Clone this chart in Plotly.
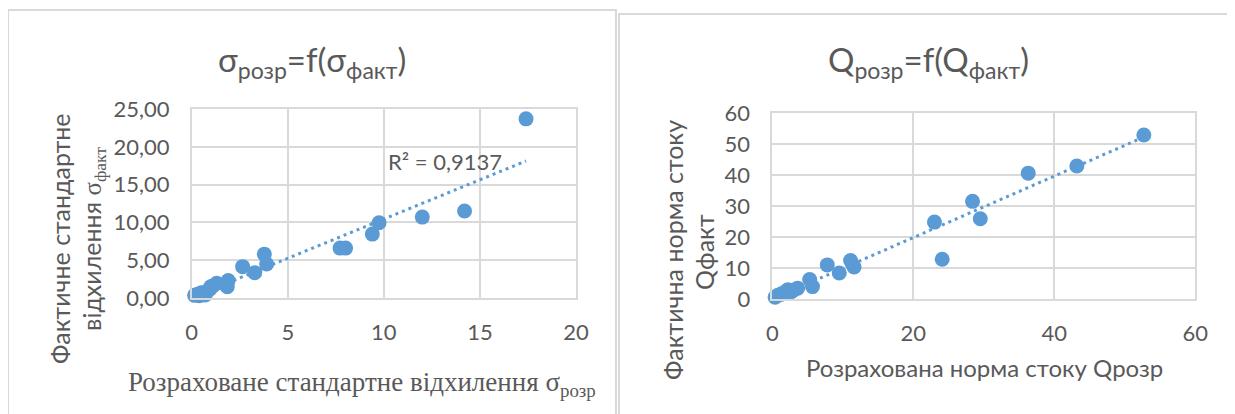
import numpy as np
import plotly.graph_objects as go

# ---- data ----
sigma_rozr = [0.15, 0.3, 0.4, 0.5, 0.6, 0.7, 0.8, 0.95, 1.0, 1.1, 1.3, 1.85, 1.9,
              2.65, 3.28, 3.78, 3.9, 7.72, 8.01, 9.4, 9.75, 12.0, 14.2, 17.4]
sigma_fakt = [0.35, 0.5, 0.3, 0.7, 0.55, 0.4, 0.9, 1.2, 1.5, 1.6, 1.95, 1.5, 2.3,
              4.15, 3.35, 5.8, 4.5, 6.6, 6.6, 8.45, 9.95, 10.7, 11.5, 23.7]
r2_left_label = "R² = 0,9137"

q_rozr = [0.4, 0.8, 1.2, 1.6, 2.2, 2.6, 3.0, 3.6, 5.3, 5.7, 7.8, 9.5, 11.1, 11.6,
          23.0, 24.1, 28.4, 29.5, 36.3, 43.2, 52.7]
q_fakt = [0.6, 1.2, 1.5, 2.0, 3.0, 2.2, 2.8, 3.5, 6.3, 4.0, 11.0, 8.4, 12.4, 10.3,
          24.8, 12.8, 31.5, 25.9, 40.6, 42.9, 52.9]

left_xticks = [0, 5, 10, 15, 20]
left_yticks = [0, 5, 10, 15, 20, 25]
right_xticks = [0, 20, 40, 60]
right_yticks = [0, 10, 20, 30, 40, 50, 60]

OFF = 8  # default page margin of the browser
W, H = 1235 - OFF, 414 - OFF
BLUE = "#5B9BD5"
GRID = "#D9D9D9"
TXT = "#595959"
SANS = "Lato, 'Open Sans', sans-serif"
SERIF = "'Liberation Serif', 'DejaVu Serif', serif"


def px(x):
    return (x - OFF) / W


def py(y):
    return 1 - (y - OFF) / H


def trend(xs, ys):
    k, b = np.polyfit(xs, ys, 1)
    xx = np.array([min(xs), max(xs)])
    return xx, k * xx + b


fig = go.Figure()

# left chart
fig.add_trace(go.Scatter(x=sigma_rozr, y=sigma_fakt, mode="markers", xaxis="x", yaxis="y",
                         marker=dict(size=15, color=BLUE), cliponaxis=False, showlegend=False))
tx, ty = trend(sigma_rozr, sigma_fakt)
fig.add_trace(go.Scatter(x=tx, y=ty, mode="lines", xaxis="x", yaxis="y",
                         line=dict(color=BLUE, width=3, dash="3px,4px"), showlegend=False))

# right chart
fig.add_trace(go.Scatter(x=q_rozr, y=q_fakt, mode="markers", xaxis="x2", yaxis="y2",
                         marker=dict(size=15, color=BLUE), cliponaxis=False, showlegend=False))
tx2, ty2 = trend(q_rozr, q_fakt)
fig.add_trace(go.Scatter(x=tx2, y=ty2, mode="lines", xaxis="x2", yaxis="y2",
                         line=dict(color=BLUE, width=3, dash="3px,4px"), showlegend=False))

axis_common = dict(showgrid=True, gridcolor=GRID, gridwidth=1.5, zeroline=False,
                   showline=True, linecolor=GRID, linewidth=1.5, mirror=True,
                   tickfont=dict(family=SANS, size=22, color=TXT), ticks="",
                   automargin=False, fixedrange=True)

fig.update_layout(
    width=W, height=H,
    margin=dict(l=0, r=0, t=0, b=0),
    paper_bgcolor="white", plot_bgcolor="white",
    separators=", ",
    xaxis=dict(domain=[px(191.7), px(576)], range=[0, 20], tickvals=left_xticks,
               ticklabelstandoff=14, anchor="y", **axis_common),
    yaxis=dict(domain=[py(298), py(109)], range=[0, 25], tickvals=left_yticks,
               tickformat=".2f", ticklabelstandoff=16, anchor="x", **axis_common),
    xaxis2=dict(domain=[px(772.3), px(1195.3)], range=[0, 60], tickvals=right_xticks,
                ticklabelstandoff=14, anchor="y2", **axis_common),
    yaxis2=dict(domain=[py(299), py(113)], range=[0, 60], tickvals=right_yticks,
                ticklabelstandoff=16, anchor="x2", **axis_common),
)

ann = []
# titles
ann.append(dict(text="σ<sub>розр</sub>=f(σ<sub>факт</sub>)", x=px(312), y=py(62),
                font=dict(family=SANS, size=33, color=TXT)))
ann.append(dict(text="Q<sub>розр</sub>=f(Q<sub>факт</sub>)", x=px(928), y=py(62),
                font=dict(family=SANS, size=33, color=TXT)))
# left axis titles
ann.append(dict(text="Розраховане стандартне відхилення σ<sub>розр</sub>", x=px(362), y=py(384),
                font=dict(family=SERIF, size=27, color=TXT)))
ann.append(dict(text="Фактичне стандартне", x=px(60), y=py(239), textangle=-90,
                font=dict(family=SANS, size=25, color=TXT)))
ann.append(dict(text="відхилення <span style='font-family:Liberation Serif'>σ<sub>факт</sub></span>",
                x=px(93), y=py(239), textangle=-90,
                font=dict(family=SANS, size=25, color=TXT)))
# right axis titles
ann.append(dict(text="Розрахована норма стоку Qрозр", x=px(984), y=py(367),
                font=dict(family=SANS, size=24, color=TXT)))
ann.append(dict(text="Фактична норма стоку", x=px(673), y=py(250), textangle=-90,
                font=dict(family=SANS, size=25, color=TXT)))
ann.append(dict(text="Qфакт", x=px(704), y=py(252), textangle=-90,
                font=dict(family=SANS, size=25, color=TXT)))
for a in ann:
    a.update(xref="paper", yref="paper", showarrow=False, xanchor="center", yanchor="middle")
# R² label
ann.append(dict(text=r2_left_label, x=13.2, y=18.0, xref="x", yref="y", showarrow=False,
                xanchor="center", yanchor="middle", font=dict(family=SANS, size=22, color=TXT)))
fig.update_layout(annotations=ann)

# panel borders
fig.update_layout(shapes=[
    dict(type="rect", xref="paper", yref="paper", x0=px(8), x1=px(616), y0=-0.2, y1=py(10),
         line=dict(color=GRID, width=2), layer="below"),
    dict(type="rect", xref="paper", yref="paper", x0=px(619), x1=1.2, y0=-0.2, y1=py(14),
         line=dict(color=GRID, width=2), layer="below"),
])

fig.write_html("out.html")
